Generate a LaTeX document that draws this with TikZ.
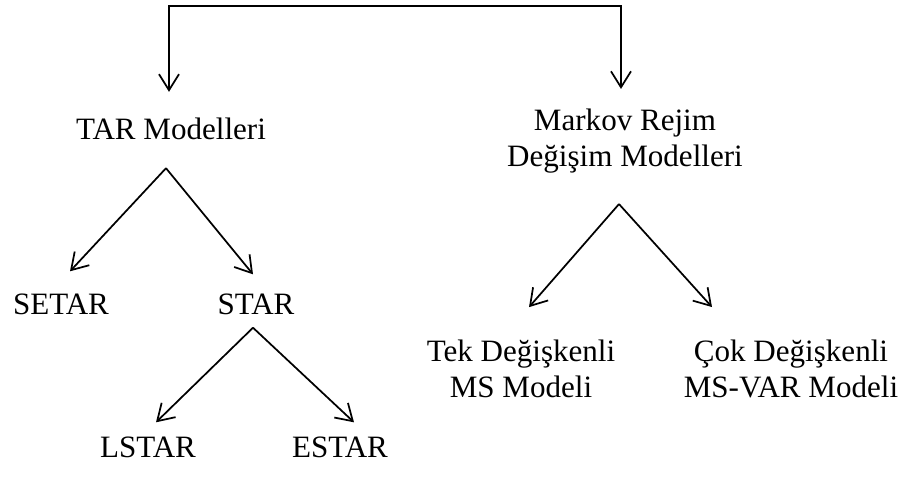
\documentclass[tikz,border=0pt]{standalone}
\usepackage{fontspec}
\setmainfont{Liberation Serif}
\usepackage{tikz}
\usetikzlibrary{positioning,arrows.meta,calc}

\begin{document}
\begin{tikzpicture}[
    x=0.75pt, y=-0.75pt,
    font=\fontsize{23.3}{26.5}\selectfont,
    lbl/.style={inner sep=0pt, align=center},
    arr/.style={line width=1.3pt, -{Straight Barb[length=12pt, width=15pt]}},
]
\useasboundingbox (0,0) rectangle (918,479);

% Categories
\node[lbl] (tar) at (171,129) {TAR Modelleri};
\node[lbl] (markov) at (625,141) {Markov Rejim\\Değişim Modelleri};

% TAR branch
\node[lbl] (setar) at (61,304) {SETAR};
\node[lbl] (star) at (256,304) {STAR};
\node[lbl] (lstar) at (148,447) {LSTAR};
\node[lbl] (estar) at (340,447) {ESTAR};

% Markov branch
\node[lbl] (tek) at (521,369) {Tek Değişkenli\\MS Modeli};
\node[lbl] (cok) at (791,369) {Çok Değişkenli\\MS-VAR Modeli};

% Top connector
\coordinate (rail) at (395,6);
\draw[line width=1.3pt, {Straight Barb[length=12pt, width=15pt]}-{Straight Barb[length=12pt, width=15pt]}]
    ($(tar.north)+(-2,-26)$) |- (rail) -| ($(markov.north)+(-4,-20)$);

% Fork points
\coordinate (tarfork) at ($(tar.south)+(-5,28)$);
\coordinate (markovfork) at ($(markov.south)+(-6,31)$);
\coordinate (starfork) at ($(star.south)+(-3,13)$);

\draw[arr] (tarfork) -- ($(setar.north)+(9,-22)$);
\draw[arr] (tarfork) -- ($(star.north)+(-3,-19)$);
\draw[arr] (markovfork) -- ($(tek.north)+(8,-33)$);
\draw[arr] (markovfork) -- ($(cok.north)+(-79,-33)$);
\draw[arr] (starfork) -- ($(lstar.north)+(8,-14)$);
\draw[arr] (starfork) -- ($(estar.north)+(14,-14)$);

\end{tikzpicture}
\end{document}
